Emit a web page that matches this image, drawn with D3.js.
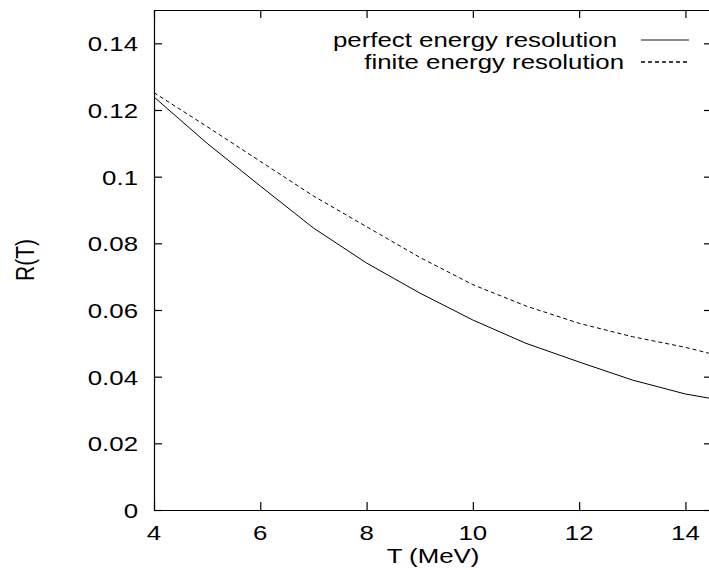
<!DOCTYPE html>
<html lang="en">
<head>
  <meta charset="UTF-8">
  <title>R(T) vs T</title>
  <script src="https://d3js.org/d3.v7.min.js"></script>
  <style>
      body {
          margin: 0;
          padding: 0;
          background: #fff;
          overflow: hidden;
      }
      svg {
          display: block;
          font-family: "Liberation Sans", Arial, sans-serif;
      }
  </style>
</head>
<body>
  <svg width="709" height="570"></svg>
  <script>
      // data
      const tValues = [4, 5, 6, 7, 8, 9, 10, 11, 12, 13, 14, 14.5];
      const perfectRes = [0.1239, 0.1100, 0.0972, 0.0846, 0.0741, 0.0651, 0.0570, 0.0500, 0.0444, 0.0390, 0.0348, 0.0334];
      const finiteRes = [0.1252, 0.1150, 0.1046, 0.0942, 0.0850, 0.0758, 0.0676, 0.0612, 0.0560, 0.0520, 0.0488, 0.0468];

      const xTicks = [4, 6, 8, 10, 12, 14];
      const xTickLabels = ["4", "6", "8", "10", "12", "14"];
      const yTicks = [0, 0.02, 0.04, 0.06, 0.08, 0.1, 0.12, 0.14];
      const yTickLabels = ["0", "0.02", "0.04", "0.06", "0.08", "0.1", "0.12", "0.14"];

      const seriesNames = ["perfect energy resolution", "finite energy resolution"];

      const svg = d3.select("svg");
      const margin = { left: 154, right: 712, top: 10, bottom: 510 };
      const stretch = 1.23; // glyphs in the source are wider than tall
      const fontSize = 21;

      const x = d3.scaleLinear().domain([4, 14.5]).range([margin.left, margin.right]);
      const y = d3.scaleLinear().domain([0, 0.15]).range([margin.bottom, margin.top]);

      // frame with inward ticks on all four sides
      const tick = 8;
      svg.append("g")
          .attr("transform", `translate(0,${margin.bottom})`)
          .call(d3.axisBottom(x).tickValues(xTicks).tickSize(-tick).tickSizeOuter(0).tickFormat(""));
      svg.append("g")
          .attr("transform", `translate(0,${margin.top})`)
          .call(d3.axisTop(x).tickValues(xTicks).tickSize(-tick).tickSizeOuter(0).tickFormat(""));
      svg.append("g")
          .attr("transform", `translate(${margin.left},0)`)
          .call(d3.axisLeft(y).tickValues(yTicks).tickSize(-tick).tickSizeOuter(0).tickFormat(""));
      svg.append("g")
          .attr("transform", `translate(${margin.right},0)`)
          .call(d3.axisRight(y).tickValues(yTicks).tickSize(-tick).tickSizeOuter(0).tickFormat(""));
      svg.selectAll(".domain, .tick line").attr("stroke", "#000").attr("stroke-width", 1.2);

      // tick labels
      svg.append("g").selectAll("text")
          .data(xTicks)
          .join("text")
          .attr("transform", d => `translate(${x(d)},540) scale(${stretch},1)`)
          .attr("text-anchor", "middle")
          .attr("font-size", fontSize)
          .text((d, i) => xTickLabels[i]);

      svg.append("g").selectAll("text")
          .data(yTicks)
          .join("text")
          .attr("transform", d => `translate(138,${y(d) + 8}) scale(${stretch},1)`)
          .attr("text-anchor", "end")
          .attr("font-size", fontSize)
          .text((d, i) => yTickLabels[i]);

      // axis titles
      svg.append("text")
          .attr("transform", `translate(${(margin.left + margin.right) / 2},563) scale(${stretch},1)`)
          .attr("text-anchor", "middle")
          .attr("font-size", fontSize)
          .text("T (MeV)");

      svg.append("text")
          .attr("transform", `translate(33.5,${(margin.top + margin.bottom) / 2}) scale(${stretch},1) rotate(-90)`)
          .attr("text-anchor", "middle")
          .attr("font-size", fontSize)
          .text("R(T)");

      // curves
      const line = d3.line()
          .x(d => x(d[0]))
          .y(d => y(d[1]));

      svg.append("defs").append("clipPath").attr("id", "plot")
          .append("rect")
          .attr("x", margin.left).attr("y", margin.top)
          .attr("width", margin.right - margin.left).attr("height", margin.bottom - margin.top);

      const curves = svg.append("g").attr("clip-path", "url(#plot)");
      curves.append("path")
          .datum(d3.zip(tValues, perfectRes))
          .attr("d", line)
          .attr("fill", "none")
          .attr("stroke", "#000")
          .attr("stroke-width", 1);
      curves.append("path")
          .datum(d3.zip(tValues, finiteRes))
          .attr("d", line)
          .attr("fill", "none")
          .attr("stroke", "#000")
          .attr("stroke-width", 1)
          .attr("stroke-dasharray", "4,3");

      // key
      const key = svg.append("g");
      const keyRows = [
          { label: seriesNames[0], y: 40, textEnd: 617, dash: null, color: "#666" },
          { label: seriesNames[1], y: 62, textEnd: 624, dash: "4,3", color: "#000" }
      ];
      keyRows.forEach(r => {
          key.append("text")
              .attr("transform", `translate(${r.textEnd},${r.y + 7}) scale(${stretch},1)`)
              .attr("text-anchor", "end")
              .attr("font-size", fontSize)
              .text(r.label);
          key.append("line")
              .attr("x1", 641).attr("x2", 689)
              .attr("y1", r.y).attr("y2", r.y)
              .attr("stroke", r.color)
              .attr("stroke-width", 1.5)
              .attr("stroke-dasharray", r.dash);
      });
  </script>
</body>
</html>
